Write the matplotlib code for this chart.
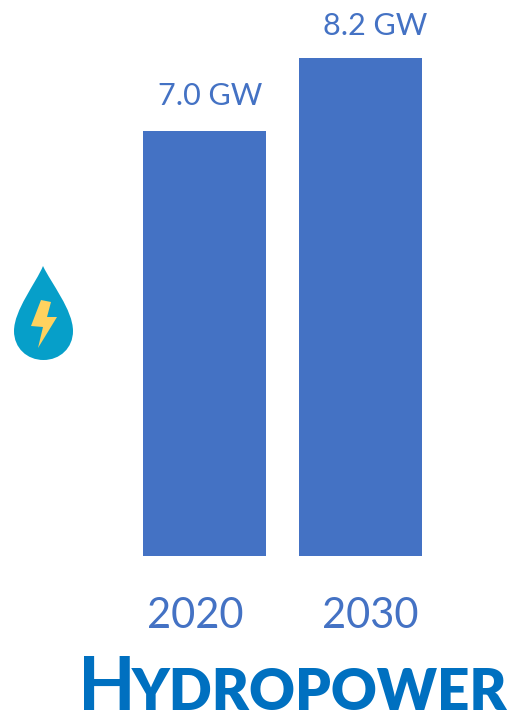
import matplotlib
matplotlib.use('Agg')
from matplotlib import pyplot as plt
from matplotlib.path import Path
from matplotlib.patches import PathPatch
from matplotlib.transforms import Affine2D

years=['2020','2030']
capacity=[7.0,8.2]
bar_labels=['7.0 GW','8.2 GW']

W,H=511,712
bar_blue='#4472C4'
title_blue='#0070C0'

plt.rcParams['font.family']=['Lato','DejaVu Sans']

fig=plt.figure(figsize=[W/100,H/100],dpi=100)
# axes runs the full width, baseline sits 556 px down from the top
ax=fig.add_axes([0,(H-556)/H,1,556/H])
xpos=[0,1]
ax.bar(xpos,capacity,width=0.788,color=bar_blue)
ax.set_xlim(-1.311,1.965)
ax.set_ylim(0,9.155)
ax.set_xticks([])
ax.set_yticks([])
for side in ax.spines.values():
    side.set_visible(False)

# labels sit off the bar centres, so each one gets its own pixel offset
value_shift=[(6,26),(14.5,23)]
year_shift=[(-9,-72),(9.5,-72)]
for x,val,label,year,vs,ys in zip(xpos,capacity,bar_labels,years,value_shift,year_shift):
    ax.annotate(label,(x,val),xytext=vs,textcoords='offset pixels',
                ha='center',va='baseline',fontsize=22,color=bar_blue)
    ax.annotate(year,(x,0),xytext=ys,textcoords='offset pixels',annotation_clip=False,
                ha='center',va='baseline',fontsize=30,color=bar_blue)

# small-caps title, big initial then the rest
px=lambda x,y:(x/W,1-y/H)
fig.text(*px(78,710),'H',fontsize=54,fontweight='bold',color=title_blue,ha='left',va='baseline')
fig.text(*px(132,710),'YDROPOWER',fontsize=40.7,fontweight='heavy',color=title_blue,ha='left',va='baseline')

# water drop icon, drawn in pixel coordinates from the top left
to_px=Affine2D().scale(1,-1).translate(0,H)
drop=Path([(43,266),(36,283),(14,310),(14,331),(14,348),(27,360),(43.5,360),
           (60,360),(73,348),(73,331),(73,310),(51,283),(43,266),(43,266)],
          [Path.MOVETO,Path.CURVE4,Path.CURVE4,Path.CURVE4,Path.CURVE4,Path.CURVE4,Path.CURVE4,
           Path.CURVE4,Path.CURVE4,Path.CURVE4,Path.CURVE4,Path.CURVE4,Path.CURVE4,Path.CLOSEPOLY])
bolt=Path([(41,300),(51,302),(47,317),(57,317),(38,348),(43,327),(31,326),(41,300)],closed=True)
fig.add_artist(PathPatch(drop,facecolor='#069FC9',edgecolor='none',transform=to_px))
fig.add_artist(PathPatch(bolt,facecolor='#FFD25F',edgecolor='none',transform=to_px))

fig.savefig('out.png',dpi=100)
